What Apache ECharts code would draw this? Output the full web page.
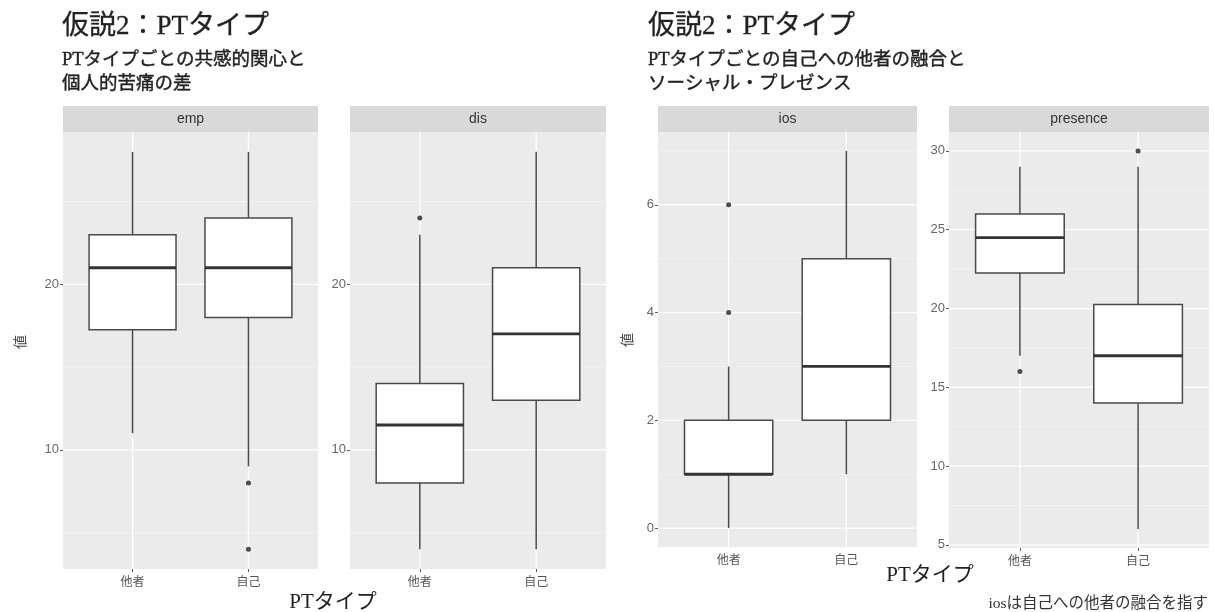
<!DOCTYPE html>
<html><head><meta charset="utf-8">
<script src="https://cdn.jsdelivr.net/npm/echarts@6/dist/echarts.min.js"></script>
<style>html,body{margin:0;padding:0;background:#fff}#c{width:1214px;height:612px}</style>
</head><body><div id="c"></div>
<script>
// ---- data ----
const categories = ['他者', '自己'];
const panelNames = ['emp', 'dis', 'ios', 'presence'];
// [lower whisker, Q1, median, Q3, upper whisker] for 他者, 自己
const empBoxes = [[11, 17.25, 21, 23, 28], [9, 18, 21, 24, 28]];
const disBoxes = [[4, 8, 11.5, 14, 23], [4, 13, 17, 21, 28]];
const iosBoxes = [[0, 1, 1, 2, 3], [1, 2, 3, 5, 7]];
const presenceBoxes = [[17, 22.25, 24.5, 26, 29], [6, 14, 17, 20.25, 29]];
// outliers: [category number (1 = 他者, 2 = 自己), value]
const empOutliers = [[2, 8], [2, 4]];
const disOutliers = [[1, 24]];
const iosOutliers = [[1, 4], [1, 6]];
const presenceOutliers = [[1, 16], [2, 30]];
// y-axis ranges and ticks
const empRange = [2.8, 29.2], disRange = [2.8, 29.2], iosRange = [-0.35, 7.35], presenceRange = [4.8, 31.2];
const empTicks = [10, 20], disTicks = [10, 20], iosTicks = [0, 2, 4, 6], presenceTicks = [5, 10, 15, 20, 25, 30];
const empMinor = [5, 15, 25], disMinor = [5, 15, 25], iosMinor = [1, 3, 5, 7], presenceMinor = [7.5, 12.5, 17.5, 22.5, 27.5];
const xTicks = [1, 2];

const titleText = '仮説2：PTタイプ';
const leftSub = ['PTタイプごとの共感的関心と', '個人的苦痛の差'];
const rightSub = ['PTタイプごとの自己への他者の融合と', 'ソーシャル・プレゼンス'];
const xTitle = 'PTタイプ';
const yTitle = '値';
const note = 'iosは自己への他者の融合を指す';

// ---- layout ----
const grids = [
  {left: 63, top: 132, width: 255, height: 437},
  {left: 350, top: 132, width: 256, height: 437},
  {left: 658, top: 132, width: 259, height: 415},
  {left: 949, top: 132, width: 260, height: 416}
];
const boxesList = [empBoxes, disBoxes, iosBoxes, presenceBoxes];
const outList = [empOutliers, disOutliers, iosOutliers, presenceOutliers];
const ranges = [empRange, disRange, iosRange, presenceRange];
const ticksList = [empTicks, disTicks, iosTicks, presenceTicks];
const minorList = [empMinor, disMinor, iosMinor, presenceMinor];
const BOXW = 0.75;
const SANS = "'Liberation Sans', 'Noto Sans CJK JP', sans-serif";
const SERIF = "'Liberation Serif', 'Noto Sans CJK JP', serif";
const CJK = "'Noto Sans CJK JP', sans-serif";

function renderBox(params, api) {
  const x = api.value(0);
  const lo = api.value(1), q1 = api.value(2), med = api.value(3), q3 = api.value(4), hi = api.value(5);
  const pHi = api.coord([x, hi]), pQ3 = api.coord([x, q3]), pQ1 = api.coord([x, q1]), pLo = api.coord([x, lo]), pMed = api.coord([x, med]);
  const l = api.coord([x - BOXW / 2, q3])[0], r = api.coord([x + BOXW / 2, q3])[0];
  const ls = {stroke: '#4a4a4a', lineWidth: 1.5};
  return {type: 'group', children: [
    {type: 'line', shape: {x1: pHi[0], y1: pHi[1], x2: pQ3[0], y2: pQ3[1]}, style: ls},
    {type: 'line', shape: {x1: pQ1[0], y1: pQ1[1], x2: pLo[0], y2: pLo[1]}, style: ls},
    {type: 'rect', shape: {x: l, y: pQ3[1], width: r - l, height: pQ1[1] - pQ3[1]}, style: {fill: '#fff', stroke: '#4a4a4a', lineWidth: 1.5}},
    {type: 'line', shape: {x1: l, y1: pMed[1], x2: r, y2: pMed[1]}, style: {stroke: '#333', lineWidth: 2.8}}
  ]};
}

// gridline item: [kind, value]; kind 0 = minor horizontal, 1 = major horizontal, 2 = vertical
function renderGridLine(params, api) {
  const kind = api.value(0), v = api.value(1);
  const cs = params.coordSys;
  if (kind === 2) {
    const px = api.coord([v, 1])[0];
    return {type: 'line', shape: {x1: px, y1: cs.y, x2: px, y2: cs.y + cs.height}, style: {stroke: '#fff', lineWidth: 1.3}};
  }
  const py = api.coord([1, v])[1];
  return {type: 'line', shape: {x1: cs.x, y1: py, x2: cs.x + cs.width, y2: py},
    style: kind === 1 ? {stroke: '#fff', lineWidth: 1.3} : {stroke: '#f6f6f6', lineWidth: 0.7}};
}

const xAxes = [], yAxes = [], series = [], graphics = [];
grids.forEach((g, i) => {
  xAxes.push({
    type: 'value', gridIndex: i, min: 0.4, max: 2.6,
    axisLine: {show: false}, splitLine: {show: false},
    axisTick: {show: true, customValues: xTicks, length: 3, lineStyle: {color: '#555', width: 1}},
    axisLabel: {customValues: xTicks, formatter: v => categories[Math.round(v) - 1], color: '#555', fontSize: 12, fontFamily: CJK, margin: 6}
  });
  yAxes.push({
    type: 'value', gridIndex: i, min: ranges[i][0], max: ranges[i][1],
    axisLine: {show: false}, splitLine: {show: false},
    axisTick: {show: true, customValues: ticksList[i], length: 3, lineStyle: {color: '#555', width: 1}},
    axisLabel: {customValues: ticksList[i], color: '#666', fontSize: 13, fontFamily: SANS, margin: 4}
  });
  series.push({
    type: 'custom', xAxisIndex: i, yAxisIndex: i, z: 1, silent: true,
    renderItem: renderGridLine,
    encode: {x: 0, y: 1},
    data: [
      ...minorList[i].map(v => [0, v]),
      ...ticksList[i].map(v => [1, v]),
      ...xTicks.map(v => [2, v])
    ]
  });
  series.push({
    type: 'custom', xAxisIndex: i, yAxisIndex: i, z: 3,
    renderItem: renderBox,
    encode: {x: 0, y: [1, 2, 3, 4, 5]},
    data: boxesList[i].map((b, k) => [k + 1].concat(b))
  });
  series.push({
    type: 'scatter', xAxisIndex: i, yAxisIndex: i, z: 4,
    symbolSize: 5, itemStyle: {color: '#222'},
    data: outList[i]
  });
  graphics.push({type: 'rect', shape: {x: g.left, y: 106, width: g.width, height: 26}, style: {fill: '#d9d9d9'}, silent: true});
  graphics.push({type: 'text', x: g.left + g.width / 2, y: 119, style: {text: panelNames[i], fill: '#333', font: '14px ' + SANS, textAlign: 'center', textVerticalAlign: 'middle'}});
});

// titles & annotations
[[62, leftSub], [648, rightSub]].forEach(([x, sub]) => {
  graphics.push({type: 'text', x: x, y: 27, style: {text: titleText, fill: '#222', stroke: '#222', lineWidth: 0.3, font: '27px ' + SERIF, textVerticalAlign: 'middle'}});
  graphics.push({type: 'text', x: x, y: 60, style: {text: sub[0], fill: '#222', stroke: '#222', lineWidth: 0.4, font: '18.5px ' + SERIF, textVerticalAlign: 'middle'}});
  graphics.push({type: 'text', x: x, y: 84, style: {text: sub[1], fill: '#222', stroke: '#222', lineWidth: 0.4, font: '18.5px ' + SERIF, textVerticalAlign: 'middle'}});
});
graphics.push({type: 'text', x: 20, y: 342, rotation: Math.PI / 2, style: {text: yTitle, fill: '#444', font: '14px ' + CJK, textAlign: 'center', textVerticalAlign: 'middle'}});
graphics.push({type: 'text', x: 627, y: 340, rotation: Math.PI / 2, style: {text: yTitle, fill: '#444', font: '14px ' + CJK, textAlign: 'center', textVerticalAlign: 'middle'}});
graphics.push({type: 'text', x: 333, y: 602, style: {text: xTitle, fill: '#222', font: '21px ' + SERIF, textAlign: 'center', textVerticalAlign: 'middle'}});
graphics.push({type: 'text', x: 930, y: 575, style: {text: xTitle, fill: '#222', font: '21px ' + SERIF, textAlign: 'center', textVerticalAlign: 'middle'}});
graphics.push({type: 'text', x: 1208, y: 604, style: {text: note, fill: '#333', font: '15.5px ' + SERIF, textAlign: 'right', textVerticalAlign: 'middle'}});

const chart = echarts.init(document.getElementById('c'), null, {renderer: 'canvas'});
chart.setOption({
  animation: false,
  backgroundColor: '#fff',
  grid: grids.map(g => Object.assign({show: true, backgroundColor: '#ebebeb', borderWidth: 0, containLabel: false, outerBoundsMode: 'none'}, g)),
  xAxis: xAxes,
  yAxis: yAxes,
  series: series,
  graphic: graphics
});
</script>
</body></html>
